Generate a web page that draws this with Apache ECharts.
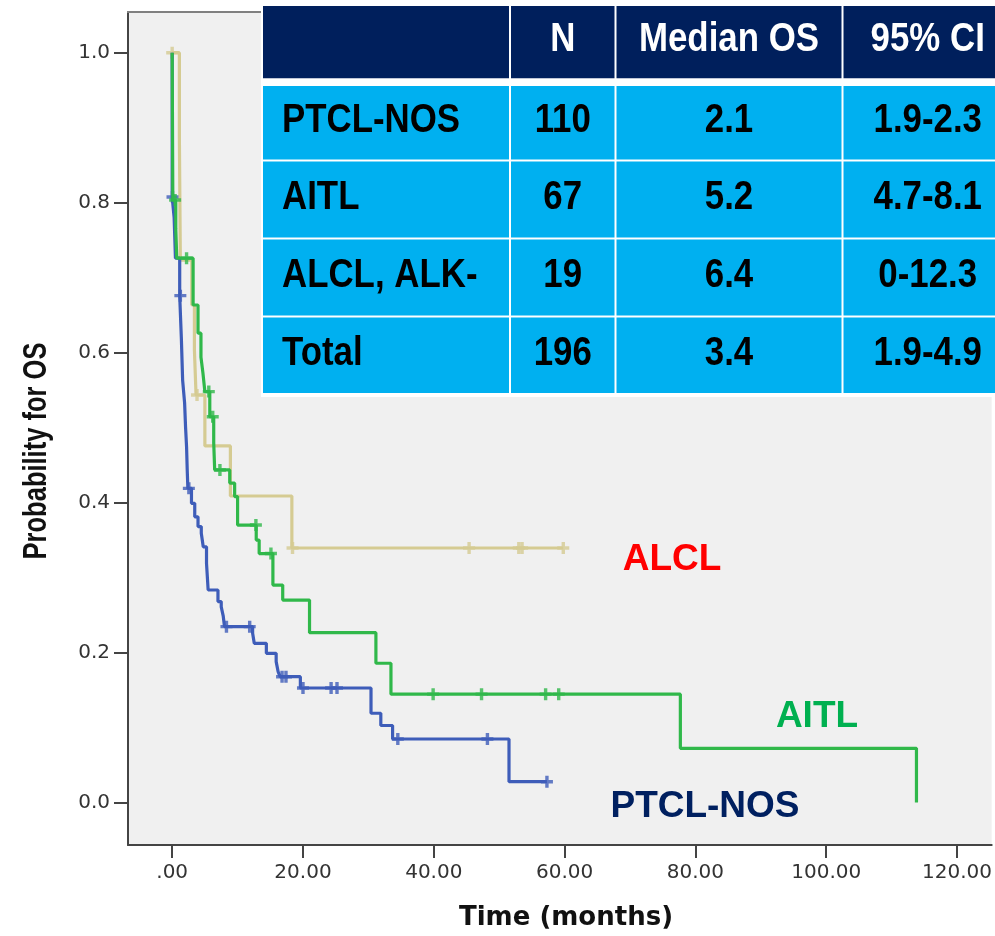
<!DOCTYPE html>
<html><head><meta charset="utf-8">
<script src="https://cdn.jsdelivr.net/npm/echarts@6/dist/echarts.min.js"></script>
<style>html,body{margin:0;padding:0;background:#fff}#chart{width:995px;height:936px}</style>
</head><body><div id="chart"></div>
<script>
// ---- data ----
const timeTicks = [0, 20, 40, 60, 80, 100, 120];
const probTicks = [0, 0.2, 0.4, 0.6, 0.8, 1.0];
const seriesNames = ['ALCL', 'PTCL-NOS', 'AITL'];
// [time (months), survival after the event]
const alclSteps = [[0,1.0],[1.1,0.888],[1.25,0.7235],[3.0,0.6635],[3.4,0.6035],[3.65,0.5435],[5.0,0.4755],[8.9,0.4088],[18.3,0.3394],[59.8,0.3394]];
const alclCensor = [0, 3.8, 18.4, 45.4, 53.0, 53.5, 59.8];
const ptclSteps = [[0,1.0],[0,0.8075],[0.3,0.78],[0.5,0.726],[1.15,0.676],[1.4,0.62],[1.6,0.563],[1.9,0.533],[2.05,0.50],[2.2,0.4745],[2.3,0.4435],[2.4,0.419],[2.95,0.399],[3.45,0.381],[3.95,0.368],[4.45,0.359],[4.75,0.341],[5.25,0.319],[5.5,0.2834],[7.0,0.268],[7.5,0.261],[7.8,0.249],[8.0,0.2345],[12.3,0.2257],[12.55,0.2123],[14.4,0.199],[15.9,0.1878],[16.2,0.1744],[16.5,0.1678],[19.6,0.1527],[30.4,0.119],[31.9,0.1027],[33.7,0.0847],[51.5,0.0277],[57.3,0.0277]];
const ptclCensor = [0.05, 1.25, 2.55, 8.3, 11.85, 16.8, 17.4, 20.0, 24.3, 25.2, 34.5, 48.2, 57.3];
const aitlSteps = [[0,1.0],[0.1,0.8035],[0.55,0.765],[0.7,0.726],[3.2,0.6635],[3.95,0.626],[4.4,0.594],[4.7,0.573],[5.0,0.548],[5.75,0.5145],[6.35,0.48],[6.5,0.4435],[8.8,0.426],[9.55,0.408],[10.0,0.370],[12.85,0.35],[13.3,0.332],[15.4,0.290],[16.9,0.27],[21.0,0.2265],[31.15,0.1857],[33.45,0.1445],[77.7,0.0723],[113.8,0.0]];
const aitlCensor = [0.45, 2.2, 5.6, 6.2, 7.3, 12.8, 15.1, 39.9, 47.3, 57.1, 59.1];

const tableHeader = ['', 'N', 'Median OS', '95% CI'];
const tableGroups = ['PTCL-NOS', 'AITL', 'ALCL, ALK-', 'Total'];
const tableN = ['110', '67', '19', '196'];
const tableMedian = ['2.1', '5.2', '6.4', '3.4'];
const tableCI = ['1.9-2.3', '4.7-8.1', '0-12.3', '1.9-4.9'];

// ---- helpers ----
function survAt(steps, t) {
  let s = steps[0][1];
  for (const p of steps) { if (p[0] <= t) s = p[1]; }
  return s;
}
const cross = 'path://M4.3,0h3.4v4.3h4.3v3.4h-4.3v4.3h-3.4v-4.3h-4.3v-3.4h4.3z';
const colors = { ALCL: '#D5CB92', 'PTCL-NOS': '#3E5DB9', AITL: '#30B84A' };
const stepsBy = { ALCL: alclSteps, 'PTCL-NOS': ptclSteps, AITL: aitlSteps };
const censorBy = { ALCL: alclCensor, 'PTCL-NOS': ptclCensor, AITL: aitlCensor };

const series = [];
seriesNames.forEach((name, i) => {
  series.push({
    type: 'line', name, step: 'end', data: stepsBy[name], showSymbol: false,
    lineStyle: { color: colors[name], width: 3.2 }, z: 2 + i * 2, silent: true
  });
  series.push({
    type: 'scatter', name: name + ' censored',
    data: censorBy[name].map(t => [t, survAt(stepsBy[name], t)]),
    symbol: cross, symbolSize: 12, itemStyle: { color: colors[name] }, z: 3 + i * 2, silent: true
  });
});

// ---- table as graphic ----
const colX = [[263, 509], [511, 614.5], [616.5, 841.5], [843.5, 1012]];
const rowY = [[6, 78.3], [86, 159.5], [161.5, 237.5], [239.5, 315.5], [317.5, 393]];
const tFont = 'bold 41px "Liberation Sans", Arial, sans-serif';
const graphics = [];
// top frame line of the plot area (left part, the rest is under the table)
graphics.push({ type: 'line', z: 50, shape: { x1: 127, y1: 12, x2: 300, y2: 12 }, style: { stroke: '#808080', lineWidth: 2 } });
graphics.push({ type: 'rect', z: 100, shape: { x: 261, y: 3, width: 760, height: 394 }, style: { fill: '#ffffff' } });
const rows = [tableHeader].concat(tableGroups.map((g, i) => [g, tableN[i], tableMedian[i], tableCI[i]]));
rows.forEach((row, r) => {
  row.forEach((txt, c) => {
    const [x0, x1] = colX[c], [y0, y1] = rowY[r];
    graphics.push({ type: 'rect', z: 100, shape: { x: x0, y: y0, width: x1 - x0, height: y1 - y0 },
      style: { fill: r === 0 ? '#001F5C' : '#00B0F0' } });
    if (txt) {
      const left = (c === 0);
      graphics.push({ type: 'text', z: 101, x: left ? 282 : (x0 + x1) / 2, y: (y0 + y1) / 2 - 2, scaleX: 0.85,
        style: { text: txt, font: tFont, fill: r === 0 ? '#ffffff' : '#000000',
          textAlign: left ? 'left' : 'center', textVerticalAlign: 'middle' } });
    }
  });
});
// annotations
graphics.push({ type: 'text', z: 101, x: 672, y: 560, style: { text: 'ALCL', font: 'bold 37px "Liberation Sans", Arial, sans-serif', fill: '#FF0000', textAlign: 'center', textVerticalAlign: 'middle' } });
graphics.push({ type: 'text', z: 101, x: 817, y: 717, style: { text: 'AITL', font: 'bold 37px "Liberation Sans", Arial, sans-serif', fill: '#00B050', textAlign: 'center', textVerticalAlign: 'middle' } });
graphics.push({ type: 'text', z: 101, x: 705, y: 807, style: { text: 'PTCL-NOS', font: 'bold 37px "Liberation Sans", Arial, sans-serif', fill: '#002060', textAlign: 'center', textVerticalAlign: 'middle' } });
// axis titles
graphics.push({ type: 'text', z: 101, x: 37, y: 451, rotation: Math.PI / 2, scaleX: 0.75,
  style: { text: 'Probability for OS', font: 'bold 34px "Liberation Sans", Arial, sans-serif', fill: '#111', textAlign: 'center', textVerticalAlign: 'middle' } });
graphics.push({ type: 'text', z: 101, x: 566, y: 918,
  style: { text: 'Time (months)', font: 'bold 26px "DejaVu Sans", sans-serif', fill: '#111', textAlign: 'center', textVerticalAlign: 'middle' } });

const chart = echarts.init(document.getElementById('chart'), null, { renderer: 'canvas' });
chart.setOption({
  animation: false,
  backgroundColor: '#ffffff',
  grid: { left: 128, top: 12, right: 0, bottom: 91, show: true, backgroundColor: '#F0F0F0', borderWidth: 0 },
  xAxis: {
    type: 'value', min: -6.755, max: 125.3,
    axisLine: { onZero: false, lineStyle: { color: '#444', width: 2 } },
    axisTick: { customValues: timeTicks, length: 13, lineStyle: { color: '#444', width: 2 } },
    axisLabel: { customValues: timeTicks, margin: 18, color: '#333', fontSize: 20, fontFamily: 'DejaVu Sans',
      formatter: v => (Math.abs(v) < 1e-9 ? '.00' : v.toFixed(2)) },
    splitLine: { show: false }
  },
  yAxis: {
    type: 'value', min: -0.0567, max: 1.0543,
    axisLine: { onZero: false, lineStyle: { color: '#444', width: 2 } },
    axisTick: { customValues: probTicks, length: 14, lineStyle: { color: '#444', width: 2 } },
    axisLabel: { customValues: probTicks, margin: 18, color: '#333', fontSize: 20, fontFamily: 'DejaVu Sans',
      formatter: v => v.toFixed(1) },
    splitLine: { show: false }
  },
  series,
  graphic: { elements: graphics }
});
</script></body></html>
